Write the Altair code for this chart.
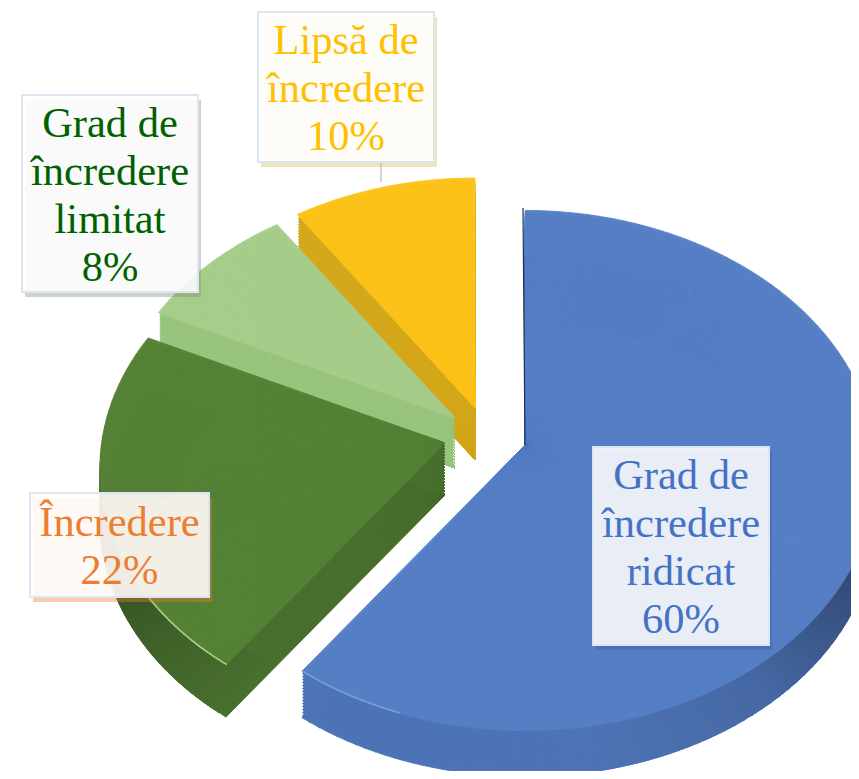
import math
import altair as alt
import numpy as np
import pandas as pd

categories = ["Grad de încredere ridicat", "Încredere", "Grad de încredere limitat", "Lipsă de încredere"]
values = [60, 22, 8, 10]

label_lines = [
    ["Grad de", "încredere", "ridicat", "60%"],
    ["Încredere", "22%"],
    ["Grad de", "încredere", "limitat", "8%"],
    ["Lipsă de", "încredere", "10%"],
]

top_colors = ["#567FC6", "#568236", "#A7CD8B", "#FCC31A"]
side_colors = ["#4E74B6", "#4A7030", "#9AC47E", "#D4A81B"]
text_colors = ["#4472C4", "#ED7D31", "#006100", "#FFC000"]
shadow_colors = ["#3F5F9F", "#ED7D31", "#7F8F7F", "#DDBB55"]
rim_colors = ["#7FA3E0", "#B8DC90", None, None]

# pixel geometry (page coordinates) per slice: apex x, apex y, wall depth, outline factor
geometry = [(525, 445, 46, 1.02), (445, 443, 52, 1.0), (455, 418, 50, 1.0), (475, 408, 52, 1.0)]
# outline of the tilted pie seen from a slice's apex: half width, half height, centre drop
TILT_A, TILT_B, TILT_K = 345, 255, 25
# where the tilted view puts the slice boundaries, degrees clockwise from the top
view_angles = [0, 224.6, 289.5, 317.4, 360]
# darker walls where the pie turns away from the light: view angle -> factor
wall_angles = [[90, 105, 130, 165], [226, 245, 265, 300]]
wall_shade = [[0.55, 0.65, 0.9, 1.0], [1.0, 0.85, 0.62, 0.62]]
rim_ranges = [(205, 224.6), (224.6, 243)]
# label boxes: left, top, right, bottom
boxes = [(593, 447, 769, 645), (30, 493, 209, 597), (22, 95, 198, 292), (258, 12, 434, 162)]
LINE_HEIGHT = 48
FONT_SIZE = 42.5
M = 8
STEP = 0.1
COARSE_STEP = 0.5
WALL_SPACING = 3
RING = 70

starts, ends, total = [], [], 0
for v in values:
    starts.append(total)
    total += v
    ends.append(total)
domain = [0] + ends


def outline_radius(deg):
    phi = math.radians(deg)
    s, c = math.sin(phi), -math.cos(phi)
    qa = (s / TILT_A) ** 2 + (c / TILT_B) ** 2
    qb = 2 * c * (-TILT_K) / TILT_B ** 2
    qc = (TILT_K / TILT_B) ** 2 - 1
    return (-qb + math.sqrt(qb * qb - 4 * qa * qc)) / (2 * qa)


def shaded(hex_color, f):
    rgb = [int(hex_color[j:j + 2], 16) for j in (1, 3, 5)]
    return "#%02X%02X%02X" % tuple(int(round(v * f)) for v in rgb)


def sectors(i, step):
    rows = []
    n = int(round(values[i] / step))
    edges = np.linspace(starts[i], ends[i], n + 1)
    for t0, t1 in zip(edges[:-1], edges[1:]):
        deg = float(np.interp((t0 + t1) / 2, domain, view_angles))
        f = float(np.interp(deg, wall_angles[i], wall_shade[i])) if i < 2 else 1.0
        on_rim = i < 2 and rim_ranges[i][0] <= deg <= rim_ranges[i][1]
        r = outline_radius(deg) * geometry[i][3]
        rows.append({"t0": t0, "t1": t1, "deg": deg, "r": r, "rim": r - 1.5, "ring": r - RING,
                     "on_rim": on_rim, "shade": f,
                     "top": top_colors[i], "side": side_colors[i], "wall": shaded(side_colors[i], f),
                     "rimcolor": rim_colors[i] or top_colors[i]})
    return pd.DataFrame(rows)


summary = pd.DataFrame({"category": categories, "value": values})
theta_scale = alt.Scale(domain=domain, range=[math.radians(a) for a in view_angles])


def arc_layer(frame, field, cx, cy, inner=None, stroke=True):
    enc = dict(
        theta=alt.Theta("t0:Q", scale=theta_scale),
        theta2=alt.Theta2("t1:Q"),
        radius=alt.Radius("r:Q", scale=None),
        color=alt.Color(f"{field}:N", scale=None, legend=None),
        x=alt.value(cx - M),
        y=alt.value(cy - M),
    )
    if inner:
        enc["radius2"] = alt.Radius2(f"{inner}:Q")
    if stroke:
        enc["stroke"] = alt.Stroke(f"{field}:N", scale=None, legend=None)
    return alt.Chart(frame).mark_arc(strokeWidth=0.7, opacity=1).encode(**enc)


layers = []
for i in [3, 2, 1, 0]:
    cx, cy, depth, _ = geometry[i]
    fine = sectors(i, STEP)
    coarse = sectors(i, COARSE_STEP)
    for dy in range(WALL_SPACING, depth, WALL_SPACING):
        layers.append(arc_layer(coarse, "side", cx, cy + dy))
    layers.append(arc_layer(fine, "side", cx, cy + depth))
    if i < 2:
        layers.append(arc_layer(fine[fine["shade"] < 1], "wall", cx, cy + depth, inner="ring"))
    layers.append(arc_layer(fine, "top", cx, cy))
    if i < 2:
        layers.append(arc_layer(fine[fine["on_rim"]], "rimcolor", cx, cy, inner="rim", stroke=False))

# thin dark edge of the blue slice's upright side
layers.append(
    alt.Chart(summary).transform_filter(alt.datum.category == categories[0]).mark_rule(color="#1F3050", strokeWidth=1.2).encode(
        x=alt.value(523 - M), x2=alt.value(525 - M), y=alt.value(208 - M), y2=alt.value(445 - M)
    )
)
# leader line of the yellow label
layers.append(
    alt.Chart(summary).transform_filter(alt.datum.category == categories[3]).mark_rule(color="#A6A6A6", strokeWidth=1).encode(
        x=alt.value(381 - M), y=alt.value(162 - M), y2=alt.value(182 - M)
    )
)

for i, lines in enumerate(label_lines):
    x0, y0, x1, y1 = boxes[i]
    base = alt.Chart(summary).transform_filter(alt.datum.category == categories[i])
    layers.append(base.mark_rect(color=shadow_colors[i], opacity=0.4).encode(
        x=alt.value(x0 - M + 3), x2=alt.value(x1 - M + 3), y=alt.value(y0 - M + 5), y2=alt.value(y1 - M + 5)))
    layers.append(base.mark_rect(fill="#FFFFFF", fillOpacity=0.88, stroke="#DCE6F2", strokeWidth=2).encode(
        x=alt.value(x0 - M), x2=alt.value(x1 - M), y=alt.value(y0 - M), y2=alt.value(y1 - M)))
    n = len(lines)
    mid = (y0 + y1) / 2 + 2
    for k, line in enumerate(lines):
        ypos = mid + (k - (n - 1) / 2) * LINE_HEIGHT
        layers.append(
            base.mark_text(text=line, font="Liberation Serif", fontSize=FONT_SIZE, color=text_colors[i],
                           align="center", baseline="middle").encode(
                x=alt.value((x0 + x1) / 2 - M), y=alt.value(ypos - M))
        )

chart = alt.layer(*layers).properties(
    width=843, height=763, padding=0, autosize=alt.AutoSizeParams(type="none")
).configure_view(stroke=None)

chart.save("out.html", embed_options={"renderer": "svg", "actions": False})
